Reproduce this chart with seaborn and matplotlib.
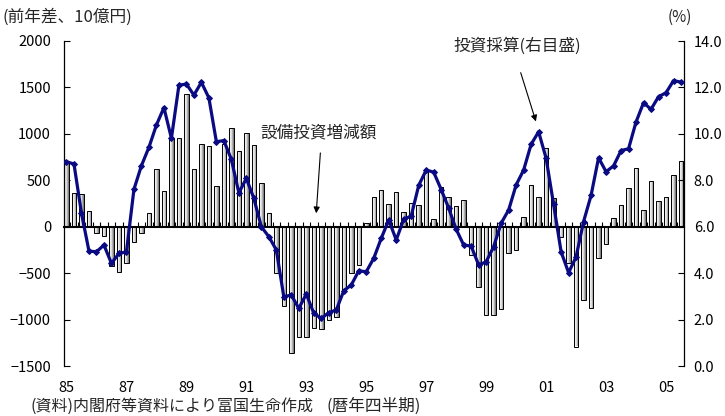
import numpy as np
import pandas as pd
import matplotlib
matplotlib.use("Agg")
import matplotlib.pyplot as plt
from matplotlib.colors import LinearSegmentedColormap
import seaborn as sns

# Year-on-year change in capital investment (10 billion yen), quarterly 1985Q1-2005Q3
capex_change = [
    690, 360, 350, 170,
    -70, -100, -420, -490,
    -390, -170, -70, 150,
    620, 380, 950, 950,
    1430, 620, 890, 865,
    440, 895, 1065, 820,
    1010, 885, 470, 150,
    -500, -850, -1360, -1185,
    -1190, -1090, -1100, -1000,
    -975, -680, -495, -410,
    45, 325, 390, 240,
    378, 160, 251, 238,
    600, 79, 430, 325,
    226, 285, -305, -652,
    -950, -950, -882, -287,
    -251, 100, 448, 323,
    853, 312, -108, -394,
    -1290, -789, -878, -333,
    -186, 97, 229, 416,
    627, 176, 495, 272,
    319, 556, 706,
]

# Return on investment (%), right axis
roi = [
    8.80, 8.70, 6.58, 4.95,
    4.92, 5.21, 4.42, 4.85,
    4.92, 7.61, 8.63, 9.42,
    10.38, 11.13, 9.81, 12.09,
    12.15, 11.67, 12.22, 11.55,
    9.66, 9.71, 8.90, 7.46,
    8.08, 7.22, 6.00, 5.57,
    5.00, 2.98, 3.06, 2.48,
    3.10, 2.27, 2.05, 2.30,
    2.41, 3.24, 3.49, 4.10,
    4.06, 4.64, 5.50, 6.29,
    5.43, 6.32, 6.46, 7.78,
    8.44, 8.35, 7.60, 6.80,
    5.89, 5.21, 5.17, 4.35,
    4.49, 5.14, 6.15, 6.72,
    7.80, 8.44, 9.55, 10.09,
    8.95, 6.96, 4.92, 4.02,
    4.70, 6.22, 7.35, 8.97,
    8.37, 8.62, 9.28, 9.36,
    10.51, 11.34, 11.06, 11.60,
    11.77, 12.29, 12.23,
]

year_labels = ["85", "87", "89", "91", "93", "95", "97", "99", "01", "03", "05"]
left_ticks = [-1500, -1000, -500, 0, 500, 1000, 1500, 2000]
right_ticks = [0, 2, 4, 6, 8, 10, 12, 14]

start_year = 1985
quarters = [f"{(start_year + i // 4) % 100:02d}Q{i % 4 + 1}" for i in range(len(capex_change))]
df = pd.DataFrame({"quarter": quarters, "capex": capex_change, "roi": roi})
df["pos"] = np.arange(len(df))

sns.set_theme(style="white")
plt.rcParams["font.family"] = ["Noto Sans CJK JP", "DejaVu Sans"]
plt.rcParams["axes.unicode_minus"] = True

W, H = 725, 416
fig = plt.figure(figsize=(W / 100, H / 100), dpi=100)
ax = fig.add_axes([63.5 / W, 1 - 366 / H, (684 - 63.5) / W, (366 - 41) / H])

# Bars: capital investment change
sns.barplot(data=df, x="quarter", y="capex", ax=ax, width=0.6,
            color="#d0d0d0", edgecolor="black", linewidth=0.7,
            order=quarters, zorder=2)

# Shade each bar with a horizontal white-to-grey gradient
shade = LinearSegmentedColormap.from_list("barshade", ["#ffffff", "#e2e2e2", "#6a6a6a"])
grad = np.linspace(0, 1, 64)[None, :]
for p in list(ax.patches):
    x0, y0, w, h = p.get_x(), p.get_y(), p.get_width(), p.get_height()
    im = ax.imshow(grad, extent=[x0, x0 + w, min(y0, y0 + h), max(y0, y0 + h)],
                   aspect="auto", cmap=shade, vmin=0, vmax=1,
                   interpolation="bilinear", zorder=1.9)
    im.set_clip_path(p)
    p.set_facecolor("none")

ax.set_xlim(-0.4, len(df) - 0.6)
ax.set_ylim(-1500, 2000)
ax.set_yticks(left_ticks)
ax.set_yticklabels([f"{v}".replace("-", "\u2212") for v in left_ticks])
ax.set_xticks(np.arange(0, len(df), 8))
ax.set_xticklabels(year_labels)
ax.set_xlabel("")
ax.set_ylabel("")
ax.tick_params(axis="x", length=0, pad=11, labelsize=10.5, colors="black")
ax.tick_params(axis="y", direction="in", length=4, width=0.8, pad=9,
               labelsize=10.5, colors="black", left=True)
for s in ["top", "bottom", "right"]:
    ax.spines[s].set_visible(False)
ax.spines["left"].set_color("black")
ax.spines["left"].set_linewidth(0.9)

# Zero line with a tick at each quarter boundary
zero_axis = ax.secondary_xaxis(0, transform=ax.transData)
zero_axis.set_xticks(np.arange(0.5, len(df) - 1, 1))
zero_axis.tick_params(direction="in", length=3.5, width=0.8, color="black",
                      labelbottom=False, bottom=True)
zero_axis.spines["bottom"].set_linewidth(1.5)
zero_axis.spines["bottom"].set_color("black")
zero_axis.set_zorder(5)

# Line: return on investment (right axis)
ax2 = ax.twinx()
sns.lineplot(data=df, x="pos", y="roi", ax=ax2, color="#0a0a82", linewidth=2.3,
             marker="D", markersize=3.0, markeredgecolor="#0a0a82", zorder=6)
ax2.set_ylim(0, 14)
ax2.set_yticks(right_ticks)
ax2.set_yticklabels([f"{v:.1f}" for v in right_ticks])
ax2.set_ylabel("")
ax2.set_xlabel("")
ax2.tick_params(axis="y", direction="in", length=4, width=0.8, pad=7,
                labelsize=10.5, colors="black", right=True)
for s in ["top", "bottom", "left"]:
    ax2.spines[s].set_visible(False)
ax2.spines["right"].set_color("black")
ax2.spines["right"].set_linewidth(0.9)
ax.set_xlim(-0.4, len(df) - 0.6)

# Annotations
ax2.annotate("", xy=(62.75, 10.42), xytext=(60.5, 12.75),
             arrowprops=dict(arrowstyle="-|>", color="black", lw=0.8, mutation_scale=9))
fig.text(517 / W, 1 - 46 / H, "投資採算(右目盛)", ha="center", va="center", fontsize=12)

ax.annotate("", xy=(33.3, 115), xytext=(33.9, 824),
            arrowprops=dict(arrowstyle="-|>", color="black", lw=0.8, mutation_scale=9))
fig.text(319 / W, 1 - 133 / H, "設備投資増減額", ha="center", va="center", fontsize=12)

fig.text(3 / W, 1 - 17 / H, "(前年差、10億円)", ha="left", va="center", fontsize=12)
fig.text(680 / W, 1 - 17 / H, "(%)", ha="center", va="center", fontsize=11)
fig.text(374 / W, 1 - 415 / H, "(暦年四半期)", ha="center", va="bottom", fontsize=12)
fig.text(30 / W, 1 - 415 / H, "(資料)内閣府等資料により富国生命作成", ha="left",
         va="bottom", fontsize=11.5)

fig.savefig("out.png", dpi=100)
